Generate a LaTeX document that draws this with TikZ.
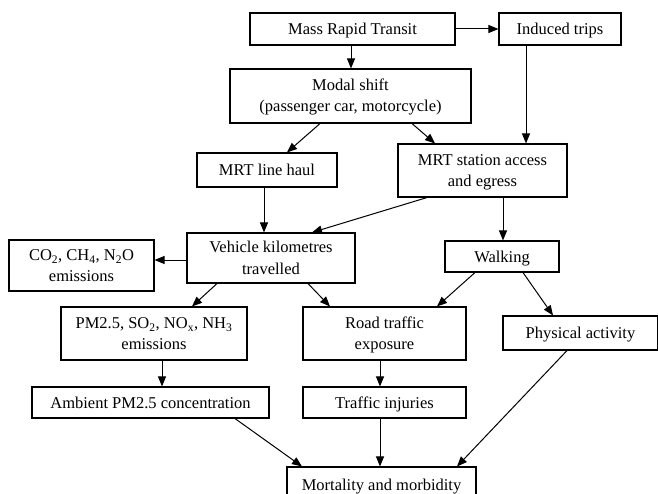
\documentclass[tikz,border=0pt]{standalone}
\usepackage{fontspec}
\setmainfont{Liberation Serif}
\usetikzlibrary{arrows.meta}
\begin{document}
\begin{tikzpicture}[x=1pt,y=-1pt,
  box/.style={draw=black, line width=1.1pt, inner sep=0pt, align=center,
    font=\fontsize{16.5}{21}\selectfont, text height=11pt, text depth=0pt},
  boxtwo/.style={box, text height=32pt},
  arr/.style={line width=1pt, -{Triangle[length=10pt,width=8pt]}}]
\clip (0,0) rectangle (658,494);
\useasboundingbox (0,0) rectangle (658,494);
\node[box, minimum width=205pt, minimum height=32pt] (mrt) at (352.5,29) {Mass Rapid Transit};
\node[box, minimum width=122pt, minimum height=32pt] (induced) at (560,29) {Induced trips};
\node[boxtwo, minimum width=241pt, minimum height=54pt] (modal) at (350.5,96) {Modal shift\\(passenger car, motorcycle)};
\node[box, minimum width=140pt, minimum height=34pt] (haul) at (267,170) {MRT line haul};
\node[boxtwo, minimum width=169pt, minimum height=53pt] (station) at (482.5,170.5) {MRT station access\\and egress};
\node[boxtwo, minimum width=168pt, minimum height=50pt] (vkt) at (271,258) {Vehicle kilometres\\travelled};
\node[boxtwo, minimum width=145pt, minimum height=51pt] (co2) at (81.5,265.5) {CO\textsubscript{2}, CH\textsubscript{4}, N\textsubscript{2}O\\emissions};
\node[box, minimum width=114pt, minimum height=31pt] (walking) at (502,256.5) {Walking};
\node[boxtwo, minimum width=186pt, minimum height=53pt] (pm) at (154,333.5) {PM2.5, SO\textsubscript{2}, NO\textsubscript{x}, NH\textsubscript{3}\\emissions};
\node[boxtwo, minimum width=163pt, minimum height=53pt] (road) at (384.5,333.5) {Road traffic\\exposure};
\node[box, minimum width=155pt, minimum height=34pt] (phys) at (580.5,333) {Physical activity};
\node[box, minimum width=237pt, minimum height=31pt] (ambient) at (150.5,402.5) {Ambient PM2.5 concentration};
\node[box, minimum width=163pt, minimum height=31pt] (injuries) at (384.5,402.5) {Traffic injuries};
\node[box, minimum width=189pt, minimum height=36pt] (mort) at (381.5,485) {Mortality and morbidity};

\draw[arr] (mrt.east) -- (induced.west);
\draw[arr] ([xshift=-1.5pt]mrt.south) -- ([xshift=-1.5pt]mrt.south |- modal.north);
\draw[arr] ([xshift=-34pt]induced.south) -- ([xshift=-34pt]induced.south |- station.north);
\draw[arr] ([xshift=-30.5pt]modal.south) -- ([xshift=20pt]haul.north);
\draw[arr] ([xshift=61.5pt]modal.south) -- ([xshift=-47.5pt]station.north);
\draw[arr] ([xshift=-3pt]haul.south) -- ([xshift=-3pt]haul.south |- vkt.north);
\draw[arr] ([xshift=-55.5pt]station.south) -- ([xshift=41pt]vkt.north);
\draw[arr] ([xshift=20.5pt]station.south) -- ([xshift=20.5pt]station.south |- walking.north);
\draw[arr] ([yshift=-2pt]vkt.west) -- ([yshift=-2pt]vkt.west -| co2.east);
\draw[arr] ([xshift=-54pt]vkt.south) -- ([xshift=38pt]pm.north);
\draw[arr] ([xshift=37pt]vkt.south) -- ([xshift=-54.5pt]road.north);
\draw[arr] ([xshift=-27pt]walking.south) -- ([xshift=52.5pt]road.north);
\draw[arr] ([xshift=21pt]walking.south) -- ([xshift=-27.5pt]phys.north);
\draw[arr] ([xshift=8pt]pm.south) -- ([xshift=8pt]pm.south |- ambient.north);
\draw[arr] ([xshift=-4.5pt]road.south) -- ([xshift=-4.5pt]road.south |- injuries.north);
\draw[arr] ([xshift=84.5pt]ambient.south) -- ([xshift=-79.5pt]mort.north);
\draw[arr] ([xshift=-4.5pt]injuries.south) -- ([xshift=-4.5pt]injuries.south |- mort.north);
\draw[arr] ([xshift=-13.5pt]phys.south) -- ([xshift=75.5pt]mort.north);
\end{tikzpicture}
\end{document}
